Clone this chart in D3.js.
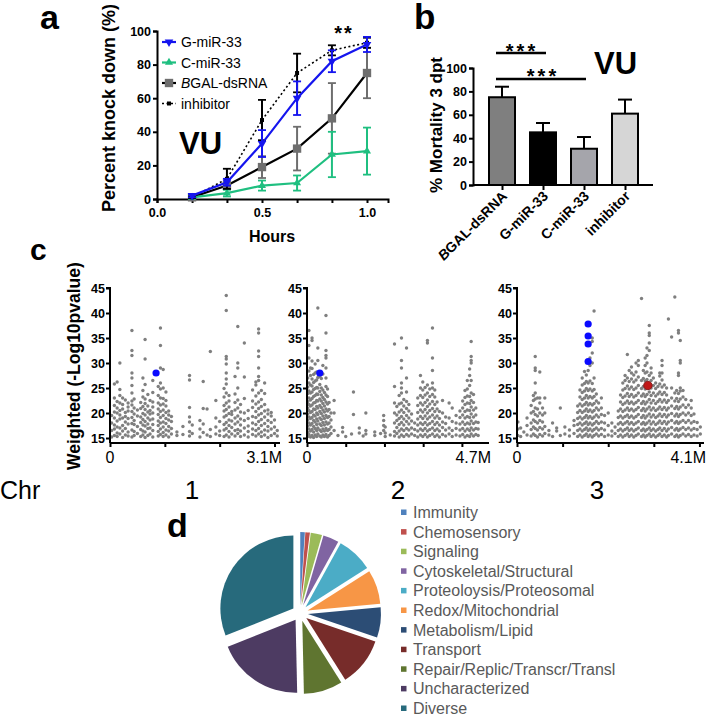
<!DOCTYPE html>
<html><head><meta charset="utf-8">
<script src="https://cdn.jsdelivr.net/npm/d3@7"></script>
<style>
body{margin:0;background:#fff;}
svg{display:block;font-family:"Liberation Sans",Arial,sans-serif;}
.ax path,.ax line{stroke:#000;stroke-width:2;}
.ax text{font-weight:bold;font-size:12.5px;fill:#000;font-family:"Liberation Sans",Arial,sans-serif;}
</style></head>
<body>
<svg id="s" width="708" height="715"></svg>
<script>
// ---------------- Panel a data ----------------
const hours = [0.167, 0.333, 0.5, 0.667, 0.833, 1.0];
const seriesNames = ["G-miR-33", "C-miR-33", "BGAL-dsRNA", "inhibitor"];
const gmir = [2, 10, 33, 60, 82, 92];
const gmirErr = [1, 2, 8, 10, 6.5, 4.5];
const cmir = [1, 3.5, 8, 9.5, 26.5, 28.5];
const cmirErr = [0.5, 2, 3, 4.5, 13.5, 14];
const bgal = [1, 8, 19, 30, 48, 75];
const bgalErr = [0.5, 2, 6.5, 13, 21, 15];
const inhib = [1, 12, 47, 75, 88.5, 93];
const inhibErr = [0.5, 6, 12, 11.5, 3, 3];
const aYTicks = [0, 20, 40, 60, 80, 100];
const aXTicks = [0, 0.5, 1.0];

// ---------------- Panel b data ----------------
const bCats = ["BGAL-dsRNA", "G-miR-33", "C-miR-33", "inhibitor"];
const bVals = [75, 45, 31, 61];
const bErr = [9, 8, 10, 12];
const bYTicks = [0, 20, 40, 60, 80, 100];

// ---------------- Panel c data: [position (Mb), values] ----------------
const chr1Cols = [
 [0.03,[15.2,16.5,18,19.5]],
 [0.08,[15.5,16.8,17.6,19,20.2,21.5,23,25.8]],
 [0.13,[15.3,16,17.2,18.4,20,21,22.3,26.2]],
 [0.18,[15.8,17,18.8,19.6,20.5,22,23.5,24.7,30]],
 [0.23,[15.1,16.4,17.5,19,20.8,21.7,23]],
 [0.28,[15.6,16.9,18.2,19.3,20.1,22.6]],
 [0.33,[15.4,16.2,17.8,18.9,20.4,21.2,22]],
 [0.4,[15.2,16.6,17.9,19.1,20.3,21.6,22.4,24,25.5,27,28,31.5,32.5,36.5]],
 [0.44,[15.5,16.3,17.7,18.5,19.8,21,22.8]],
 [0.5,[15.9,17.3,19.4,20.6]],
 [0.56,[15.3,16.7,18.1,19.2,20.9,22.1]],
 [0.6,[15.6,16.4,17.6,18.7,19.9,21.3,23.2,24.5,27]],
 [0.64,[15.1,16.2,17.4,18.3,19.6,20.7,21.9,22.8,25.7,30.8,34.7]],
 [0.69,[15.5,16.9,17.8,19,20.2,21.4,23.7]],
 [0.73,[15.8,17,18.6,19.8,20.5,22.5]],
 [0.78,[15.2,16.5,17.7,18.8,20,21.2,22.2,24.1,26.5]],
 [0.88,[15.4,16.3,17.5,18.4,19.7,20.8,22,23.5,25.3]],
 [0.92,[15.7,16.8,18,19.1,20.3,21.6,23,24.8,26,29,33.5,37]],
 [0.97,[15.3,16.1,17.2,18.2,19.5,20.6,21.8,22.9,25,28.7]],
 [1.02,[15.6,16.6,17.9,18.9,20.1,21.4,22.5,24.2]],
 [1.07,[15.2,16.4,17.3,18.6,19.6,20.4]],
 [1.12,[15.8,16.9,18.3,19.3]],
 [1.22,[15.5,16.2]],
 [1.33,[15.7,17.3]],
 [1.45,[15.4,16.3,18.2,19.2,21.1,26.6,27.5]],
 [1.5,[15.9,17.6]],
 [1.64,[15.2,16.8,18.5]],
 [1.7,[16.1,17.8,20.9,26.3]],
 [1.77,[15.6,20.8]],
 [1.83,[15.3,16.7,32.3]],
 [1.93,[15.8,17.2,19,22.5]],
 [2.0,[15.5,16.4,18.3]],
 [2.08,[15.3,16.6,17.7,19.2,20.4,21.5,23.2,24.9]],
 [2.12,[15.6,16.9,18.1,19.5,20.7,22,24,25.8,26.8,28,29.8,30.8,31.3,40.5,43.5]],
 [2.17,[15.2,16.3,17.5,18.6,19.9,21.2,22.4,23.5]],
 [2.22,[15.8,17.1,18.4,19.7,20.3]],
 [2.28,[15.4,16.5,17.8,19,20.6,22.1,23.8,27.3]],
 [2.33,[15.9,16.7,18.2,19.4,21,22.6,25,29,30,37.3]],
 [2.38,[15.3,16.4,17.6,18.8,20.2,21.7]],
 [2.45,[15.6,17,18.5,20,22.9,27.2,34]],
 [2.52,[15.2,16.3,17.4,18.9,20.5]],
 [2.6,[15.7,16.8,18,19.3,21.1,22.4,24.6]],
 [2.66,[15.4,16.5,17.7,19.1,20.3,21.8,23.4,25.6,26.2]],
 [2.71,[15.8,16.9,18.3,19.6,20.9,22.2,24,26.5,27.3,29,31.3,32.4,36,36.8]],
 [2.76,[15.3,16.2,17.5,18.7,19.9,21.3,22.7,24.5]],
 [2.82,[15.6,16.6,17.9,19.2,20.4,21.7,23.9,26]],
 [2.88,[15.1,16.4,17.3,18.5,19.8,20.6]],
 [2.94,[15.5,16.8,18.1,19.4,20.1]],
 [3.0,[15.9,17.2,18.6]],
 [3.05,[15.4,16.5]]
];
const chr2Cols = [
 [0.02,[15.3,16.1,17.4,18.6,19.8,21,22.3,23.9,25.2,27]],
 [0.05,[15.7,16.8,18,19.2,20.5,21.7,23,24.4,26,28.4,31,33.5,36.5]],
 [0.09,[15.2,16.4,17.6,18.9,20.1,21.4,22.6,24,25.6,27.5,29]],
 [0.13,[15.5,16.7,17.9,19.1,20.3,21.6,22.9,24.2,25.4,26.8,28.9,30.4,34.5,35]],
 [0.17,[15.1,16.2,17.3,18.5,19.6,20.8,22,23.3,24.7,26.1,27.7]],
 [0.21,[15.6,16.9,18.2,19.4,20.7,22.1,23.5,24.9,26.4,28,29.8]],
 [0.25,[15.3,16.5,17.7,18.8,20,21.3,22.5,23.8,25.1,26.6,28.2]],
 [0.28,[15.8,17,18.4,19.7,21,22.4,23.7,25,27.1,30.5,33,41]],
 [0.33,[15.4,16.6,17.8,19,20.3,21.5,22.8,24.3,25.7,27.3]],
 [0.37,[15.2,16.3,17.5,18.7,19.9,21.1,22.4,23.6,25,26.9]],
 [0.41,[15.6,16.8,18.1,19.4,20.6,21.9,23.1,24.6,27.8,29.5]],
 [0.45,[15.3,16.4,17.6,18.9,20.2,21.4,22.7,24.1]],
 [0.49,[15.7,16.9,18.2,19.5,20.8,22.2,23.6,25.3,27,29,31,31.5,32.5,36,39.5]],
 [0.53,[15.2,16.5,17.8,19.1,20.4,21.8,23.3,24.8]],
 [0.57,[15.5,16.7,18,19.3,20.7,22.1]],
 [0.62,[15.9,17.2,18.6,20]],
 [0.7,[16.5,20,22.5]],
 [0.8,[15.5]],
 [0.92,[16.2,17.1]],
 [1.0,[15.3]],
 [1.15,[15.8]],
 [1.2,[19.7,24.2]],
 [1.35,[16,17]],
 [1.45,[15.4]],
 [1.52,[15.8,16.5,20]],
 [1.75,[15.5,16.2]],
 [1.9,[15.9]],
 [1.98,[16.5,17.5,18.5,19.5]],
 [2.02,[15.3,16,17.2]],
 [2.15,[15.6]],
 [2.26,[15.4,16.3,18,20,22,25.3,33.8]],
 [2.32,[15.9,17.1,18.5,19.6,21.3]],
 [2.38,[15.2,16.4,17.7,18.9,20.2,21.8,23.5]],
 [2.44,[15.6,16.8,18.1,19.3,20.6,22,24,25,26,29,30.5,35]],
 [2.5,[15.3,16.5,17.6,18.8,20.1,21.4,22.7]],
 [2.57,[15.7,16.9,18.3,19.5,20.9,22.3,24.2,27,33]],
 [2.63,[15.4,16.6,17.8,19,20.4,21.7]],
 [2.7,[15.8,17,18.4,19.8]],
 [2.78,[15.5,16.7,18]],
 [2.86,[15.2,16.4,17.6,18.8,20.1,21.5,23]],
 [2.93,[15.6,16.8,18,19.3,20.6,22,23.5,25,27.5]],
 [2.99,[15.3,16.5,17.7,18.9,20.2,21.6,23.1,24.6,26.2]],
 [3.05,[15.7,16.9,18.1,19.4,20.7,22.1,23.6,25.1]],
 [3.11,[15.2,16.4,17.6,18.8,20,21.3,22.6,24,25.6,34,34.5]],
 [3.17,[15.5,16.7,17.9,19.2,20.5,21.8,23.3,24.8]],
 [3.24,[15.8,17,18.3,19.6,20.9,22.3,23.7,25,26,28.5,31,37]],
 [3.3,[15.3,16.5,17.7,19,20.3,21.7,23.2,24.6]],
 [3.36,[15.6,16.8,18.1,19.4,20.8,22.2]],
 [3.42,[15.2,16.4,17.6,18.9,20.3]],
 [3.5,[15.7,17.1,18.2,20,22.5]],
 [3.58,[15.4,16.6,17.9,19.2]],
 [3.67,[15.8,17,19,22]],
 [3.75,[15.3,16.5,18.3,21]],
 [3.85,[15.6,16.9,18,19.5]],
 [3.95,[15.4,16.6,17.8,19.1,20.4]],
 [4.02,[15.7,16.9,18.2,19.6,21,22.4]],
 [4.08,[15.2,16.4,17.7,19,20.3,21.7,23.1,24.5]],
 [4.14,[15.5,16.8,18,19.3,20.6,22,23.4,24.8,26.5]],
 [4.2,[15.3,16.5,17.8,19.1,20.5,21.9,23.3,25.5,27.5,28.8]],
 [4.24,[15.8,17,18.4,19.8,21.2,22.5,24,26.5,30,30.5,31.3,34.3]],
 [4.3,[15.4,16.6,17.9,19.2,20.6,22.1,23.7]],
 [4.36,[15.7,16.9,18.2,19.6,21]],
 [4.42,[15.5,16.8,18.1]]
];
const chr3Cols = [
 [0.02,[15.5,16.8,18.2]],
 [0.08,[15.3,17]],
 [0.15,[16.2]],
 [0.22,[15.6,17.5,19]],
 [0.31,[15.4,16.7,18,20,21.5]],
 [0.36,[15.8,17.2,18.6,20.3,22.5,23.5]],
 [0.4,[15.5,16.9,18.3,19.7,21,22.8,24,26,28.5,29,31.3]],
 [0.45,[15.2,16.6,18,19.4,20.8,23]],
 [0.5,[15.7,17.1,18.5,20,22,23,28.2]],
 [0.56,[15.4,16.8,18.2,19.6,21]],
 [0.61,[15.9,17.3,20,23]],
 [0.7,[15.6,16.5]],
 [0.78,[15.3,18]],
 [0.87,[16.4,17]],
 [0.95,[15.5,21]],
 [1.05,[15.8,17.2]],
 [1.15,[15.4,16.6]],
 [1.25,[15.9,17.5,18.5]],
 [1.33,[15.3,16.5,17.7,18.9,20.1,21.4]],
 [1.38,[15.6,16.8,18,19.2,20.5,21.8,23.2,24.6]],
 [1.43,[15.2,16.4,17.6,18.8,20.1,21.4,22.7,24.1,25.6,27]],
 [1.48,[15.5,16.7,17.9,19.1,20.4,21.7,23,24.4,25.9,28.3]],
 [1.52,[15.8,17,18.2,19.5,20.8,22.1,23.5,24.9,26.3,27.6]],
 [1.56,[15.3,16.5,17.7,19,20.3,21.6,23,24.5,26,28.5]],
 [1.6,[15.6,16.8,18,19.3,20.6,21.9,23.3,24.8,26.4,29.5,31]],
 [1.65,[15.2,16.4,17.6,18.9,20.2,21.6,23,24.4,25.9,30,32,34.3,35]],
 [1.69,[15.5,16.7,17.9,19.2,20.5,21.9,23.3,24.7,27,40.4]],
 [1.74,[15.8,17,18.3,19.6,21,22.4,23.8]],
 [1.79,[15.4,16.6,17.9,19.2,20.6,22]],
 [1.85,[15.7,16.9,18.2,19.7,21,23]],
 [1.92,[15.3,16.6,18,19.5]],
 [2.0,[15.6,17.5,20]],
 [2.08,[15.4,16.4,18]],
 [2.15,[15.9,17.2]],
 [2.22,[15.3,16.5,17.8,19.1,20.4]],
 [2.27,[15.6,16.8,18.1,19.4,20.8,22.2,23.6]],
 [2.32,[15.2,16.4,17.7,19,20.3,21.7,23.1,24.6,26]],
 [2.37,[15.5,16.7,18,19.3,20.6,22,23.4,24.9,26.5,27.5]],
 [2.42,[15.8,17,18.3,19.6,21,22.4,23.9,25.4,27,31.7]],
 [2.46,[15.3,16.5,17.8,19.1,20.5,21.9,23.3,24.8,26.3,28.5]],
 [2.51,[15.6,16.8,18.1,19.4,20.8,22.2,23.7,25.2,26.8,28,29.2]],
 [2.56,[15.2,16.4,17.7,19,20.4,21.8,23.2,24.7,26.2,27.6]],
 [2.61,[15.5,16.7,18,19.3,20.7,22.1,23.5,25,26.6,28.2,30]],
 [2.66,[15.8,17,18.3,19.7,21.1,22.5,24,25.5,27.2,29.5,30.5]],
 [2.73,[15.3,16.5,17.8,19.1,20.5,21.9,23.4,24.9,26.5,42.9]],
 [2.77,[15.6,16.8,18.1,19.5,20.9,22.3,23.8,25.3,26.9,28.5]],
 [2.81,[15.2,16.4,17.7,19,20.4,21.8,23.3,24.8,26.4,28,29.5,31]],
 [2.85,[15.5,16.7,18,19.4,20.8,22.2,23.7,25.2,26.7,28.2,30,31.5,33]],
 [2.9,[15.8,17,18.4,19.8,21.2,22.7,24.2,27.5,32.5,34,35.5,36,37.5]],
 [2.94,[15.3,16.5,17.8,19.2,20.6,22,23.5,25,26.5,28,29]],
 [2.99,[15.6,16.8,18.2,19.6,21,22.5,24,25.5,27]],
 [3.04,[15.2,16.4,17.7,19.1,20.5,21.9,23.4,24.9,26]],
 [3.09,[15.5,16.7,18,19.4,20.8,22.3,23.8,25.3]],
 [3.13,[15.8,17,18.4,19.8,21.2,22.7,24.2,25.8,27.4,28]],
 [3.18,[15.3,16.5,17.9,19.3,20.7,22.2,23.7,25.2,26.6,28,29.5,30.5]],
 [3.23,[15.6,16.9,18.3,19.7,21.1,22.6,24.1,25.6]],
 [3.28,[15.2,16.4,17.8,19.2,20.6,22.1,23.6,25]],
 [3.32,[15.5,16.8,18.2,19.6,21,22.5,38.8]],
 [3.39,[15.8,17.1,18.5,19.9,21.4,23,25,35.2]],
 [3.46,[15.3,16.6,18,19.4,20.9,22.4,24,43.2]],
 [3.5,[15.6,16.9,18.3,19.8,21.3,22.9,24.5]],
 [3.54,[15.2,16.5,17.9,19.3,20.8,22.3,23.9,27.5,28,36,36.5]],
 [3.58,[15.5,16.8,18.2,19.7,21.2,22.8,24.4,25,30,30.5,34.5]],
 [3.64,[15.8,17.1,18.5,20,21.6,23.2,24.5]],
 [3.7,[15.4,16.7,18.1,19.6,21.1,22.7]],
 [3.76,[15.7,17,18.5,20,21.6]],
 [3.82,[15.3,16.6,18,19.5,21,22.5]],
 [3.88,[15.6,16.9,18.3,19.8]],
 [3.95,[15.4,16.7,18.1]],
 [4.02,[15.8,17.2]]
];
const chrNames = ["1", "2", "3"];
const chrLens = [3.1, 4.7, 4.1];
const chrEndLabels = ["3.1M", "4.7M", "4.1M"];
const cYTicks = [15, 20, 25, 30, 35, 40, 45];
// highlighted hits: [chromosome index, position Mb, value]
const blueHits = [[0, 0.84, 28], [1, 0.33, 28], [2, 1.56, 37.8], [2, 1.56, 35.4], [2, 1.56, 33.8], [2, 1.56, 30.3]];
const redHits = [[2, 2.87, 25.5]];

// ---------------- Panel d data ----------------
const pieCats = ["Immunity", "Chemosensory", "Signaling", "Cytoskeletal/Structural", "Proteoloysis/Proteosomal",
  "Redox/Mitochondrial", "Metabolism/Lipid", "Transport", "Repair/Replic/Transcr/Transl", "Uncharacterized", "Diverse"];
const pieVals = [1, 1, 2.5, 3.5, 8, 7.5, 6.7, 10.8, 8.6, 19.3, 31];
const pieColors = ["#4f81bd", "#c0504d", "#9bbb59", "#8064a2", "#4bacc6", "#f79646", "#2c4d75", "#772c2a", "#5f7530", "#4d3b62", "#276a7c"];

// =============================================================
const svg = d3.select("#s");
const FONT = "'Liberation Sans',Arial,sans-serif";
const NARROW = "'Liberation Sans Narrow','Liberation Sans',Arial,sans-serif";

function label(t, x, y, size, opts = {}) {
  return svg.append("text").attr("x", x).attr("y", y).text(t)
    .attr("font-size", size).attr("font-weight", opts.bold ? "bold" : "normal")
    .attr("font-family", opts.family || FONT).attr("text-anchor", opts.anchor || "start")
    .attr("fill", opts.fill || "#000");
}

// ---------------- Panel a ----------------
label("a", 40, 29, 34, {bold: true});
const xA = d3.scaleLinear().domain([0, 1.1]).range([157, 388]);
const yA = d3.scaleLinear().domain([0, 100]).range([199, 31]);
svg.append("g").attr("class", "ax").attr("transform", "translate(0,199)")
  .call(d3.axisBottom(xA).tickValues([0, ...hours]).tickSize(4).tickFormat(d => aXTicks.includes(d) ? d3.format(".1f")(d) : ""))
  .call(g => g.selectAll("text").attr("dy", "0.9em"));
svg.append("g").attr("class", "ax").attr("transform", "translate(157,0)")
  .call(d3.axisLeft(yA).tickValues(aYTicks).tickSize(4).tickPadding(2));
label("Hours", 272, 242, 16, {bold: true, anchor: "middle"});
svg.append("text").attr("transform", "translate(115,108) rotate(-90)").attr("text-anchor", "middle")
  .attr("font-size", 18).attr("font-weight", "bold").attr("font-family", FONT).text("Percent knock down (%)");

const seriesA = [
  {vals: bgal, err: bgalErr, line: "#000", mark: "#6e6e6e", errc: "#6e6e6e", dash: null, shape: d3.symbolSquare, size: 70, rot: 0},
  {vals: cmir, err: cmirErr, line: "#1fbf80", mark: "#1fbf80", errc: "#1fbf80", dash: null, shape: d3.symbolTriangle, size: 28, rot: 0},
  {vals: inhib, err: inhibErr, line: "#000", mark: "#000", errc: "#000", dash: "2,2.5", shape: d3.symbolSquare, size: 16, rot: 0},
  {vals: gmir, err: gmirErr, line: "#1515ee", mark: "#1515ee", errc: "#1515ee", dash: null, shape: d3.symbolTriangle, size: 32, rot: 180}
];
const lineA = d3.line().x((d, i) => xA(hours[i])).y(d => yA(d));
seriesA.forEach(s => {
  const g = svg.append("g");
  s.vals.forEach((v, i) => {
    const x = xA(hours[i]);
    g.append("line").attr("x1", x).attr("x2", x).attr("y1", yA(v - s.err[i])).attr("y2", yA(v + s.err[i])).attr("stroke", s.errc).attr("stroke-width", 2);
    [v - s.err[i], v + s.err[i]].forEach(e => g.append("line").attr("x1", x - 4).attr("x2", x + 4).attr("y1", yA(e)).attr("y2", yA(e)).attr("stroke", s.errc).attr("stroke-width", 1.8));
  });
  g.append("path").attr("d", lineA(s.vals)).attr("fill", "none").attr("stroke", s.line).attr("stroke-width", s.dash ? 1.6 : 2.2)
    .attr("stroke-dasharray", s.dash);
  s.vals.forEach((v, i) => {
    g.append("path").attr("d", d3.symbol().type(s.shape).size(s.size)())
      .attr("transform", `translate(${xA(hours[i])},${yA(v)}) rotate(${s.rot})`).attr("fill", s.mark);
  });
});
const legA = [
  {name: "G-miR-33", s: seriesA[3]}, {name: "C-miR-33", s: seriesA[1]},
  {name: "BGAL-dsRNA", s: seriesA[0]}, {name: "inhibitor", s: seriesA[2]}
];
legA.forEach((d, i) => {
  const y = 42 + i * 20.5;
  svg.append("line").attr("x1", 162).attr("x2", 176).attr("y1", y).attr("y2", y).attr("stroke", d.s.line)
    .attr("stroke-width", d.s.dash ? 1.6 : 2.2).attr("stroke-dasharray", d.s.dash);
  svg.append("path").attr("d", d3.symbol().type(d.s.shape).size(d.s.size)()).attr("transform", `translate(169,${y}) rotate(${d.s.rot})`).attr("fill", d.s.mark);
  const t = svg.append("text").attr("x", 181).attr("y", y + 5).attr("font-size", 14).attr("font-family", FONT);
  if (d.name === "BGAL-dsRNA") {
    t.append("tspan").attr("font-style", "italic").text("B");
    t.append("tspan").text("GAL-dsRNA");
  } else t.text(d.name);
});
label("VU", 179, 154, 31, {bold: true});
label("**", 344, 40, 20, {bold: true, anchor: "middle"}).attr("letter-spacing", 2);

// ---------------- Panel b ----------------
label("b", 414, 29, 35, {bold: true});
const xB = d3.scalePoint().domain(bCats).range([502, 625]);
const yB = d3.scaleLinear().domain([0, 100]).range([185, 68]);
const bFill = ["#7f7f7f", "#000000", "#a5a5ab", "#d6d6d6"];
bCats.forEach((c, i) => {
  const x = xB(c);
  svg.append("line").attr("x1", x).attr("x2", x).attr("y1", yB(bVals[i])).attr("y2", yB(bVals[i] + bErr[i])).attr("stroke", "#000").attr("stroke-width", 2);
  svg.append("line").attr("x1", x - 7).attr("x2", x + 7).attr("y1", yB(bVals[i] + bErr[i])).attr("y2", yB(bVals[i] + bErr[i])).attr("stroke", "#000").attr("stroke-width", 2);
  svg.append("rect").attr("x", x - 13).attr("width", 26).attr("y", yB(bVals[i])).attr("height", yB(0) - yB(bVals[i]))
    .attr("fill", bFill[i]).attr("stroke", "#000").attr("stroke-width", 2);
});
svg.append("g").attr("class", "ax").attr("transform", "translate(473,0)")
  .call(d3.axisLeft(yB).tickValues(bYTicks).tickSize(4).tickPadding(2));
svg.append("g").attr("class", "ax").attr("transform", "translate(0,185)")
  .call(d3.axisBottom(xB).tickSize(5).tickFormat(""))
  .call(g => g.select(".domain").attr("d", "M473,0H653"));
bCats.forEach((c, i) => {
  const t = svg.append("text").attr("transform", `translate(${xB(c) + 6},${197}) rotate(-45)`)
    .attr("text-anchor", "end").attr("font-size", 14).attr("font-weight", "bold").attr("font-family", FONT);
  if (c === "BGAL-dsRNA") {
    t.append("tspan").attr("font-style", "italic").text("B");
    t.append("tspan").text("GAL-dsRNA");
  } else t.text(c);
});
svg.append("text").attr("transform", "translate(442,125) rotate(-90)").attr("text-anchor", "middle")
  .attr("font-size", 17).attr("font-weight", "bold").attr("font-family", FONT).text("% Mortality 3 dpt");
svg.append("line").attr("x1", xB(bCats[0]) - 6).attr("x2", xB(bCats[1]) + 3).attr("y1", 53).attr("y2", 53).attr("stroke", "#000").attr("stroke-width", 2.5);
svg.append("line").attr("x1", xB(bCats[0]) - 6).attr("x2", xB(bCats[2]) + 2).attr("y1", 79).attr("y2", 79).attr("stroke", "#000").attr("stroke-width", 2.5);
label("***", 522, 58, 20, {bold: true, anchor: "middle"}).attr("letter-spacing", 3);
label("***", 543, 83, 20, {bold: true, anchor: "middle"}).attr("letter-spacing", 3);
label("VU", 594, 74, 31, {bold: true});

// ---------------- Panel c ----------------
label("c", 30, 260, 30, {bold: true});
const chrRanges = [[110, 280], [307, 489], [517, 704]];
const yC = d3.scaleLinear().domain([14, 45]).range([443, 288]);
const chrCols = [chr1Cols, chr2Cols, chr3Cols];
chrCols.forEach((cols, ci) => {
  const x = d3.scaleLinear().domain([0, chrLens[ci]]).range(chrRanges[ci]);
  const pts = [];
  cols.forEach(([p, vs]) => vs.forEach(v => pts.push([p, v])));
  svg.append("g").selectAll("circle").data(pts).join("circle")
    .attr("cx", d => x(d[0])).attr("cy", d => yC(d[1])).attr("r", 1.7).attr("fill", "#7f7f7f");
  blueHits.filter(h => h[0] === ci).forEach(h =>
    svg.append("circle").attr("cx", x(h[1])).attr("cy", yC(h[2])).attr("r", 3.6).attr("fill", "#0a0aff"));
  redHits.filter(h => h[0] === ci).forEach(h =>
    svg.append("circle").attr("cx", x(h[1])).attr("cy", yC(h[2])).attr("r", 4.2).attr("fill", "#c01818").attr("stroke", "#8a1a1a").attr("stroke-width", 1));
  svg.append("g").attr("class", "ax").attr("transform", `translate(${chrRanges[ci][0]},0)`)
    .call(d3.axisLeft(yC).tickValues(cYTicks).tickSize(4).tickPadding(1))
    .call(g => g.selectAll("text").attr("font-size", 13.5))
    .call(g => g.select(".domain").attr("d", `M-4,${yC(45)}H0V${yC(14)}`));
  const ticks = d3.range(1, Math.floor(chrLens[ci]) + 1);
  svg.append("g").attr("class", "ax").attr("transform", "translate(0,443)")
    .call(d3.axisBottom(x).tickValues([0, ...ticks]).tickSize(4).tickFormat(""))
    .call(g => g.select(".domain").attr("d", `M${chrRanges[ci][0]},0H${chrRanges[ci][1]}`));
  label("0", chrRanges[ci][0], 463, 16, {anchor: "middle", family: NARROW});
  label(chrEndLabels[ci], chrRanges[ci][1] + 2, 463, 16, {anchor: "end", family: NARROW});
  label(chrNames[ci], [192, 398, 597][ci], 499, 26, {anchor: "middle", family: NARROW});
});
label("Chr", 0, 499, 25, {family: NARROW});
svg.append("text").attr("transform", "translate(80,366) rotate(-90)").attr("text-anchor", "middle")
  .attr("font-size", 17.5).attr("font-weight", "bold").attr("font-family", FONT).text("Weighted (-Log10pvalue)");

// ---------------- Panel d ----------------
label("d", 167, 537, 34, {bold: true});
const pieG = svg.append("g").attr("transform", "translate(300,613)");
const arcs = d3.pie().sort(null).value(d => d)(pieVals);
const arcGen = d3.arc().innerRadius(0).outerRadius(73);
const explode = 8;
pieG.selectAll("path").data(arcs).join("path")
  .attr("d", arcGen).attr("fill", (d, i) => pieColors[i])
  .attr("transform", d => {
    const a = (d.startAngle + d.endAngle) / 2;
    return `translate(${explode * Math.sin(a)},${-explode * Math.cos(a)})`;
  });
pieCats.forEach((c, i) => {
  const y = 512 + i * 19.6;
  svg.append("rect").attr("x", 401).attr("y", y - 2.5).attr("width", 5.5).attr("height", 5.5).attr("fill", pieColors[i]);
  label(c, 413, y + 6, 16, {fill: "#595959"});
});
</script>
</body></html>
